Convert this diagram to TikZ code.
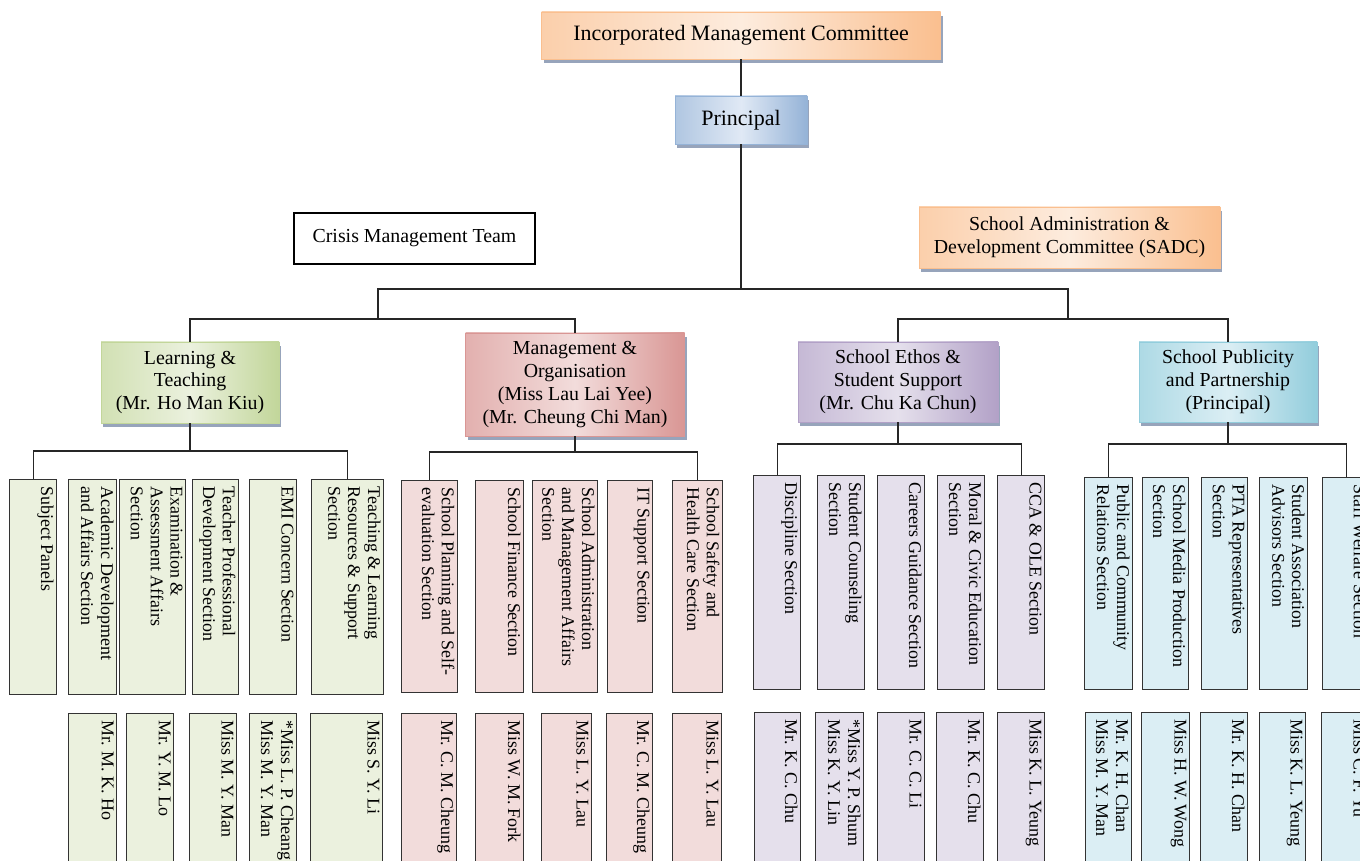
\documentclass[tikz,border=0pt]{standalone}
\usepackage{fontspec}
\setmainfont{Liberation Serif}
\usepackage{graphicx}
\usetikzlibrary{shadows}

\definecolor{orD}{RGB}{250,191,143}
\definecolor{orL}{RGB}{253,236,222}
\definecolor{bluD}{RGB}{149,179,215}
\definecolor{bluL}{RGB}{224,233,245}
\definecolor{grnD}{RGB}{194,214,154}
\definecolor{grnL}{RGB}{235,241,222}
\definecolor{redD}{RGB}{217,150,148}
\definecolor{redL}{RGB}{242,220,219}
\definecolor{purD}{RGB}{178,161,199}
\definecolor{purL}{RGB}{229,224,236}
\definecolor{cyaD}{RGB}{146,205,220}
\definecolor{cyaL}{RGB}{219,238,244}
\definecolor{shad}{RGB}{140,155,180}

\newdimen\pxu \pxu=0.02cm
% vertical text, read from top to bottom
\newcommand{\vtxt}[3]{\rotatebox{-90}{\parbox[c][\dimexpr#1\pxu-6\pxu\relax][t]{\dimexpr#2\pxu-14\pxu\relax}{\raggedright #3}}}

\begin{document}
\begin{tikzpicture}[x=0.02cm, y=-0.02cm,
    headbox/.style={draw=#1D, line width=0.4pt,
      left color=#1D!75!white, right color=#1D, middle color=#1L,
      drop shadow={shadow xshift=2\pxu, shadow yshift=-4\pxu, fill=shad, opacity=0.9},
      align=center, inner sep=0pt, font=\fontsize{11.3}{13}\selectfont},
    secbox/.style={draw=black!80, line width=0.6pt, fill=#1L,
      inner xsep=3\pxu, inner ysep=7\pxu, anchor=north west,
      font=\fontsize{10.2}{11.3}\selectfont},
    link/.style={line width=0.6pt, black!85}]
  \useasboundingbox (0,0) rectangle (1360,861);
  \fill[white] (0,0) rectangle (1360,861);
  \clip (0,0) rectangle (1360,861);

  % top levels
  \node[headbox=or, minimum width=399\pxu, minimum height=47\pxu,
    font=\fontsize{12.5}{14}\selectfont] (imc) at (741,35.5) {Incorporated Management Committee};
  \node[headbox=blu, minimum width=132\pxu, minimum height=48\pxu,
    font=\fontsize{12.5}{14}\selectfont] (prin) at (741,120) {Principal};
  \node[draw, line width=0.6pt, minimum width=241\pxu, minimum height=51\pxu,
    font=\fontsize{11.3}{13}\selectfont] (cmt) at (414.5,238.5) {Crisis Management Team};
  \node[headbox=or, minimum width=301\pxu, minimum height=61\pxu] (sadc) at (1069.5,237.5)
    {School Administration \&\\Development Committee (SADC)};

  % four areas
  \node[headbox=grn, minimum width=178\pxu, minimum height=81\pxu] (lt) at (190,382.5)
    {Learning \&\\Teaching\\(Mr. Ho Man Kiu)};
  \node[headbox=red, minimum width=219\pxu, minimum height=103\pxu] (mo) at (575,384.5)
    {Management \&\\Organisation\\(Miss Lau Lai Yee)\\(Mr. Cheung Chi Man)};
  \node[headbox=pur, minimum width=200\pxu, minimum height=80\pxu] (es) at (898,382)
    {School Ethos \&\\Student Support\\(Mr. Chu Ka Chun)};
  \node[headbox=cya, minimum width=178\pxu, minimum height=80\pxu] (sp) at (1228,382)
    {School Publicity\\and Partnership\\(Principal)};

  \coordinate (hub) at (741,289);
  \coordinate (cl) at (378,319);
  \coordinate (cr) at (1068,319);
  \draw[link] (imc.south) -- (prin.north);
  \draw[link] (prin.south) -- (hub);
  \draw[link] (cl) |- (hub) -| (cr);
  \draw[link] (lt.north) |- (cl) -| (mo.north);
  \draw[link] (es.north) |- (cr) -| (sp.north);

  % Learning & Teaching sections
  \node[secbox=grn] (l1) at (9,479) {\vtxt{47}{215}{Subject Panels}};
  \node[secbox=grn] (l2) at (68,479) {\vtxt{48}{215}{Academic Development\\and Affairs Section}};
  \node[secbox=grn] (l3) at (119,479) {\vtxt{66}{215}{Examination \&\\Assessment Affairs\\Section}};
  \node[secbox=grn] (l4) at (192,479) {\vtxt{46}{215}{Teacher Professional\\Development Section}};
  \node[secbox=grn] (l5) at (249,479) {\vtxt{47}{215}{EMI Concern Section}};
  \node[secbox=grn] (l6) at (311,479) {\vtxt{72}{215}{Teaching \& Learning\\Resources \& Support\\Section}};
  \coordinate (ltj) at (190,451);
  \draw[link] (lt.south) -- (ltj);
  \draw[link] (l1.north) |- (ltj) -| (l6.north);

  \node[secbox=grn] (ln2) at (68,713) {\vtxt{48}{190}{Mr. M. K. Ho}};
  \node[secbox=grn] (ln3) at (126,713) {\vtxt{47}{190}{Mr. Y. M. Lo}};
  \node[secbox=grn] (ln4) at (189,713) {\vtxt{47}{190}{Miss M. Y. Man}};
  \node[secbox=grn] (ln5) at (249,713) {\vtxt{47}{190}{*Miss L. P. Cheang\\Miss M. Y. Man}};
  \node[secbox=grn] (ln6) at (310,713) {\vtxt{72}{190}{Miss S. Y. Li}};

  % Management & Organisation sections
  \node[secbox=red] (m1) at (401,480) {\vtxt{56}{212}{School Planning and Self-\\evaluation Section}};
  \node[secbox=red] (m2) at (475,480) {\vtxt{48}{212}{School Finance Section}};
  \node[secbox=red] (m3) at (532,480) {\vtxt{65}{212}{School Administration\\and Management Affairs\\Section}};
  \node[secbox=red] (m4) at (607,480) {\vtxt{45}{212}{IT Support Section}};
  \node[secbox=red] (m5) at (672,480) {\vtxt{50}{212}{School Safety and\\Health Care Section}};
  \coordinate (moj) at (575,452);
  \draw[link] (mo.south) -- (moj);
  \draw[link] (m1.north) |- (moj) -| (m5.north);

  \node[secbox=red] (mn1) at (401,713) {\vtxt{55}{190}{Mr. C. M. Cheung}};
  \node[secbox=red] (mn2) at (475,713) {\vtxt{48}{190}{Miss W. M. Fork}};
  \node[secbox=red] (mn3) at (541,713) {\vtxt{50}{190}{Miss L. Y. Lau}};
  \node[secbox=red] (mn4) at (606,713) {\vtxt{46}{190}{Mr. C. M. Cheung}};
  \node[secbox=red] (mn5) at (672,713) {\vtxt{49}{190}{Miss L. Y. Lau}};

  % School Ethos & Student Support sections
  \node[secbox=pur] (e1) at (753,475) {\vtxt{47}{214}{Discipline Section}};
  \node[secbox=pur] (e2) at (817,475) {\vtxt{47}{214}{Student Counseling\\Section}};
  \node[secbox=pur] (e3) at (877,475) {\vtxt{47}{214}{Careers Guidance Section}};
  \node[secbox=pur] (e4) at (937,475) {\vtxt{47}{214}{Moral \& Civic Education\\Section}};
  \node[secbox=pur] (e5) at (997,475) {\vtxt{47}{214}{CCA \& OLE Section}};
  \coordinate (esj) at (898,444);
  \draw[link] (es.south) -- (esj);
  \draw[link] (e1.north) |- (esj) -| (e5.north);

  \node[secbox=pur] (en1) at (754,712) {\vtxt{46}{190}{Mr. K. C. Chu}};
  \node[secbox=pur] (en2) at (815,712) {\vtxt{48}{190}{*Miss Y. P. Shum\\Miss K. Y. Lin}};
  \node[secbox=pur] (en3) at (877,712) {\vtxt{47}{190}{Mr. C. C. Li}};
  \node[secbox=pur] (en4) at (936,712) {\vtxt{47}{190}{Mr. K. C. Chu}};
  \node[secbox=pur] (en5) at (997,712) {\vtxt{47}{190}{Miss K. L. Yeung}};

  % School Publicity & Partnership sections
  \node[secbox=cya] (p1) at (1084,477) {\vtxt{48}{212}{Public and Community\\Relations Section}};
  \node[secbox=cya] (p2) at (1142,477) {\vtxt{46}{212}{School Media Production\\Section}};
  \node[secbox=cya] (p3) at (1201,477) {\vtxt{46}{212}{PTA Representatives\\Section}};
  \node[secbox=cya] (p4) at (1259,477) {\vtxt{48}{212}{Student Association\\Advisors Section}};
  \node[secbox=cya] (p5) at (1322,477) {\vtxt{47}{212}{Staff Welfare Section}};
  \coordinate (spj) at (1228,444);
  \draw[link] (sp.south) -- (spj);
  \draw[link] (p1.north) |- (spj) -| (p5.north);

  \node[secbox=cya] (pn1) at (1085,712) {\vtxt{46}{190}{Mr. K. H. Chan\\Miss M. Y. Man}};
  \node[secbox=cya] (pn2) at (1141,712) {\vtxt{48}{190}{Miss H. W. Wong}};
  \node[secbox=cya] (pn3) at (1200,712) {\vtxt{47}{190}{Mr. K. H. Chan}};
  \node[secbox=cya] (pn4) at (1259,712) {\vtxt{46}{190}{Miss K. L. Yeung}};
  \node[secbox=cya] (pn5) at (1321,712) {\vtxt{47}{190}{Miss C. F. Yu}};
\end{tikzpicture}
\end{document}
